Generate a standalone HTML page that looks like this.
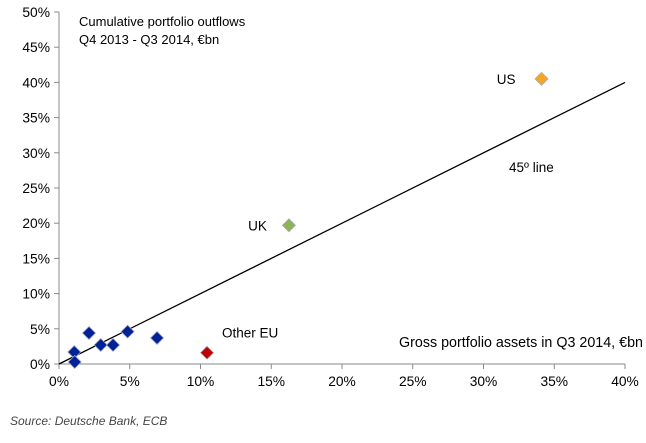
<!DOCTYPE html>
<html><head><meta charset="utf-8"><style>
body{margin:0;background:#fff;}
svg text{font-family:"Liberation Sans",sans-serif;fill:#000;}
</style></head><body>
<svg id="chart" width="646" height="438" xmlns="http://www.w3.org/2000/svg">
<g id="axes"></g>
<g id="marks"></g>
<text x="79" y="26" font-size="13">Cumulative portfolio outflows</text>
<text x="79" y="44" font-size="13">Q4 2013 - Q3 2014, €bn</text>
<text x="399" y="347" font-size="14.3">Gross portfolio assets in Q3 2014, €bn</text>
<text x="509" y="172" font-size="13.5">45º line</text>
<text x="10" y="425" font-size="12" font-style="italic" style="fill:#444">Source: Deutsche Bank, ECB</text>
</svg>
<script>
const xTicks=[0,5,10,15,20,25,30,35,40];
const yTicks=[0,5,10,15,20,25,30,35,40,45,50];
const blueX=[1.08,1.11,2.12,2.95,3.82,4.85,6.93];
const blueY=[1.7,0.28,4.4,2.7,2.7,4.6,3.7];
const labeledNames=["Other EU","UK","US"];
const labeledX=[10.46,16.25,34.1];
const labeledY=[1.6,19.7,40.5];
const labeledColors=["#c00000","#8db553","#f5a623"];
const lineX=[0,40];const lineY=[0,40];
const X0=59,X1=625,Y0=364,Y1=12;
const sx=v=>X0+(X1-X0)*v/40, sy=v=>Y0-(Y0-Y1)*v/50;
const NS="http://www.w3.org/2000/svg";
function mk(t,a,p){const e=document.createElementNS(NS,t);for(const k in a)e.setAttribute(k,a[k]);p.appendChild(e);return e;}
const ax=document.getElementById('axes'),mg=document.getElementById('marks');
let e=mk('line',{x1:X0,y1:Y1,x2:X0,y2:Y0,stroke:'#888'},ax);


e=mk('line',{x1:X0,y1:Y0,x2:X1,y2:Y0,stroke:'#888'},ax);


xTicks.forEach(v=>{mk('line',{x1:sx(v),y1:Y0,x2:sx(v),y2:Y0+5,stroke:'#888'},ax);
 const t=mk('text',{x:sx(v),y:Y0+22,'text-anchor':'middle','font-size':13.8},ax);t.textContent=v+'%';
 
 });
yTicks.forEach(v=>{mk('line',{x1:X0-5,y1:sy(v),x2:X0,y2:sy(v),stroke:'#888'},ax);
 const t=mk('text',{x:X0-9,y:sy(v)+5,'text-anchor':'end','font-size':13.8},ax);t.textContent=v+'%';
 
 });
e=mk('line',{x1:sx(lineX[0]),y1:sy(lineY[0]),x2:sx(lineX[1]),y2:sy(lineY[1]),stroke:'#000','stroke-width':1.3},mg);


function dia(x,y,c){const r=6.5;return mk('polygon',{points:`${x},${y-r} ${x+r},${y} ${x},${y+r} ${x-r},${y}`,fill:c,stroke:'#aab',"stroke-width":0.8},mg);}
blueX.forEach((v,i)=>{const d=dia(sx(v),sy(blueY[i]),'#002299');
 
 });
const lblPos=[[15,-15,'start'],[-22,5,'end'],[-26,5,'end']];
labeledX.forEach((v,i)=>{const d=dia(sx(v),sy(labeledY[i]),labeledColors[i]);
 
 
 const p=lblPos[i];
 const t=mk('text',{x:sx(v)+p[0],y:sy(labeledY[i])+p[1],'text-anchor':p[2],'font-size':13.5},mg);
 t.textContent=labeledNames[i];
 
 });
</script>
</body></html>
